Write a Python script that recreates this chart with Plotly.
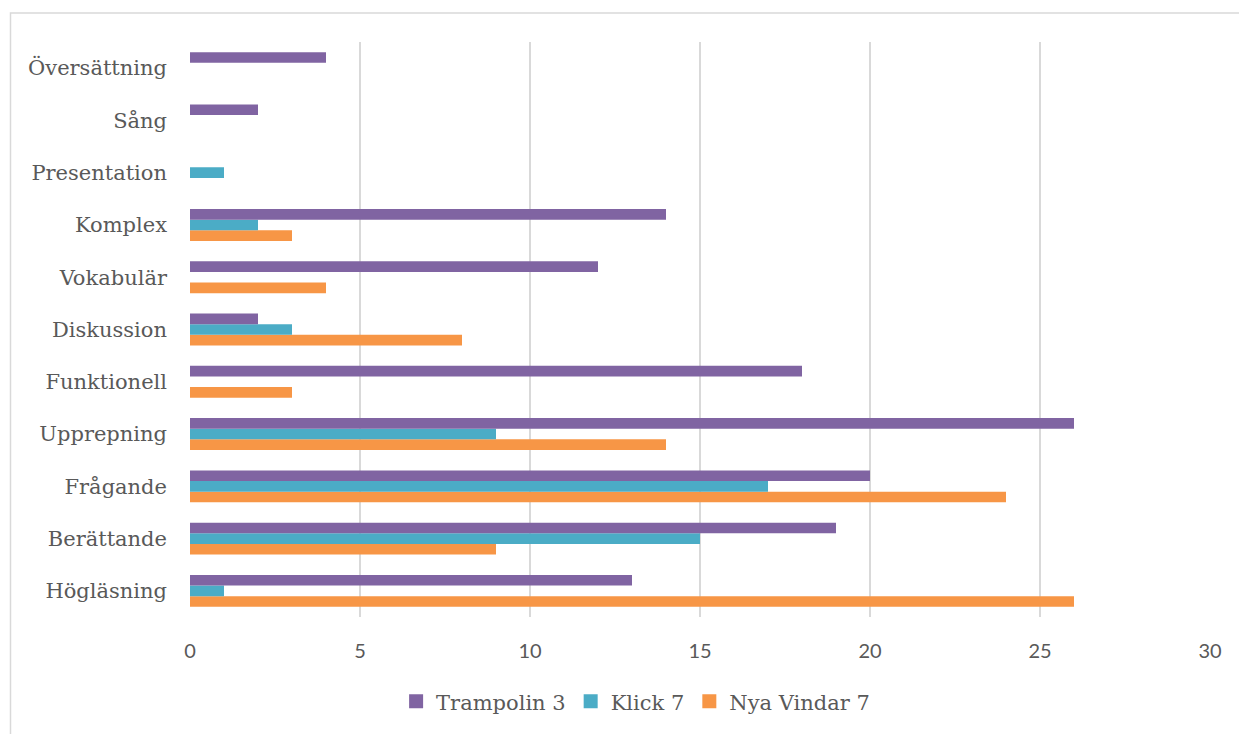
import plotly.graph_objects as go

categories = ["Högläsning", "Berättande", "Frågande", "Upprepning", "Funktionell",
              "Diskussion", "Vokabulär", "Komplex", "Presentation", "Sång", "Översättning"]
trampolin = [13, 19, 20, 26, 18, 2, 12, 14, 0, 2, 4]
klick = [1, 15, 17, 9, 0, 3, 0, 2, 1, 0, 0]
nya_vindar = [26, 9, 24, 14, 3, 8, 4, 3, 0, 0, 0]
x_ticks = [0, 5, 10, 15, 20, 25, 30]

series = [("Nya Vindar 7", nya_vindar, "#F79646"),
          ("Klick 7", klick, "#4BACC6"),
          ("Trampolin 3", trampolin, "#8064A2")]

serif = "DejaVu Serif"
gray = "#595959"

fig = go.Figure()
# added bottom-to-top within each group
for name, vals, col in series:
    fig.add_trace(go.Bar(y=categories, x=vals, name=name, orientation="h",
                         marker=dict(color=col, line=dict(width=0)),
                         showlegend=False, legendgroup=name))
# legend entries with square swatches (Trampolin first)
for name, vals, col in reversed(series):
    fig.add_trace(go.Scatter(x=[None], y=[None], mode="markers", name=name,
                             marker=dict(symbol="square", size=14, color=col),
                             legendgroup=name, showlegend=True))

fig.update_layout(
    width=1239, height=734,
    margin=dict(l=190, r=29, t=42, b=117),
    paper_bgcolor="white", plot_bgcolor="white",
    barmode="group", bargap=0.39, bargroupgap=0,
    showlegend=True,
    legend=dict(orientation="h", traceorder="normal",
                xref="container", yref="container",
                x=0.513, xanchor="center", y=0.044, yanchor="middle",
                font=dict(family=serif, size=21, color=gray),
                itemwidth=30, tracegroupgap=0),
    xaxis=dict(range=[0, 30], tickvals=x_ticks, showgrid=True,
               gridcolor="#D9D9D9", gridwidth=1.5, zeroline=False,
               showline=False, ticks="", ticklabelstandoff=20,
               tickfont=dict(family="Lato", size=20, color=gray)),
    yaxis=dict(categoryorder="array", categoryarray=categories,
               showgrid=False, zeroline=False, showline=False, ticks="",
               ticklabelstandoff=22,
               tickfont=dict(family=serif, size=21, color=gray)),
    shapes=[dict(type="rect", xref="paper", yref="paper",
                 x0=(10.5 - 190) / 1020, x1=(1250 - 190) / 1020,
                 y0=-(734 - 617 + 10) / 575, y1=1 + (42 - 13) / 575,
                 line=dict(color="#D9D9D9", width=1.5), layer="below")],
)

fig.write_html("out.html")
